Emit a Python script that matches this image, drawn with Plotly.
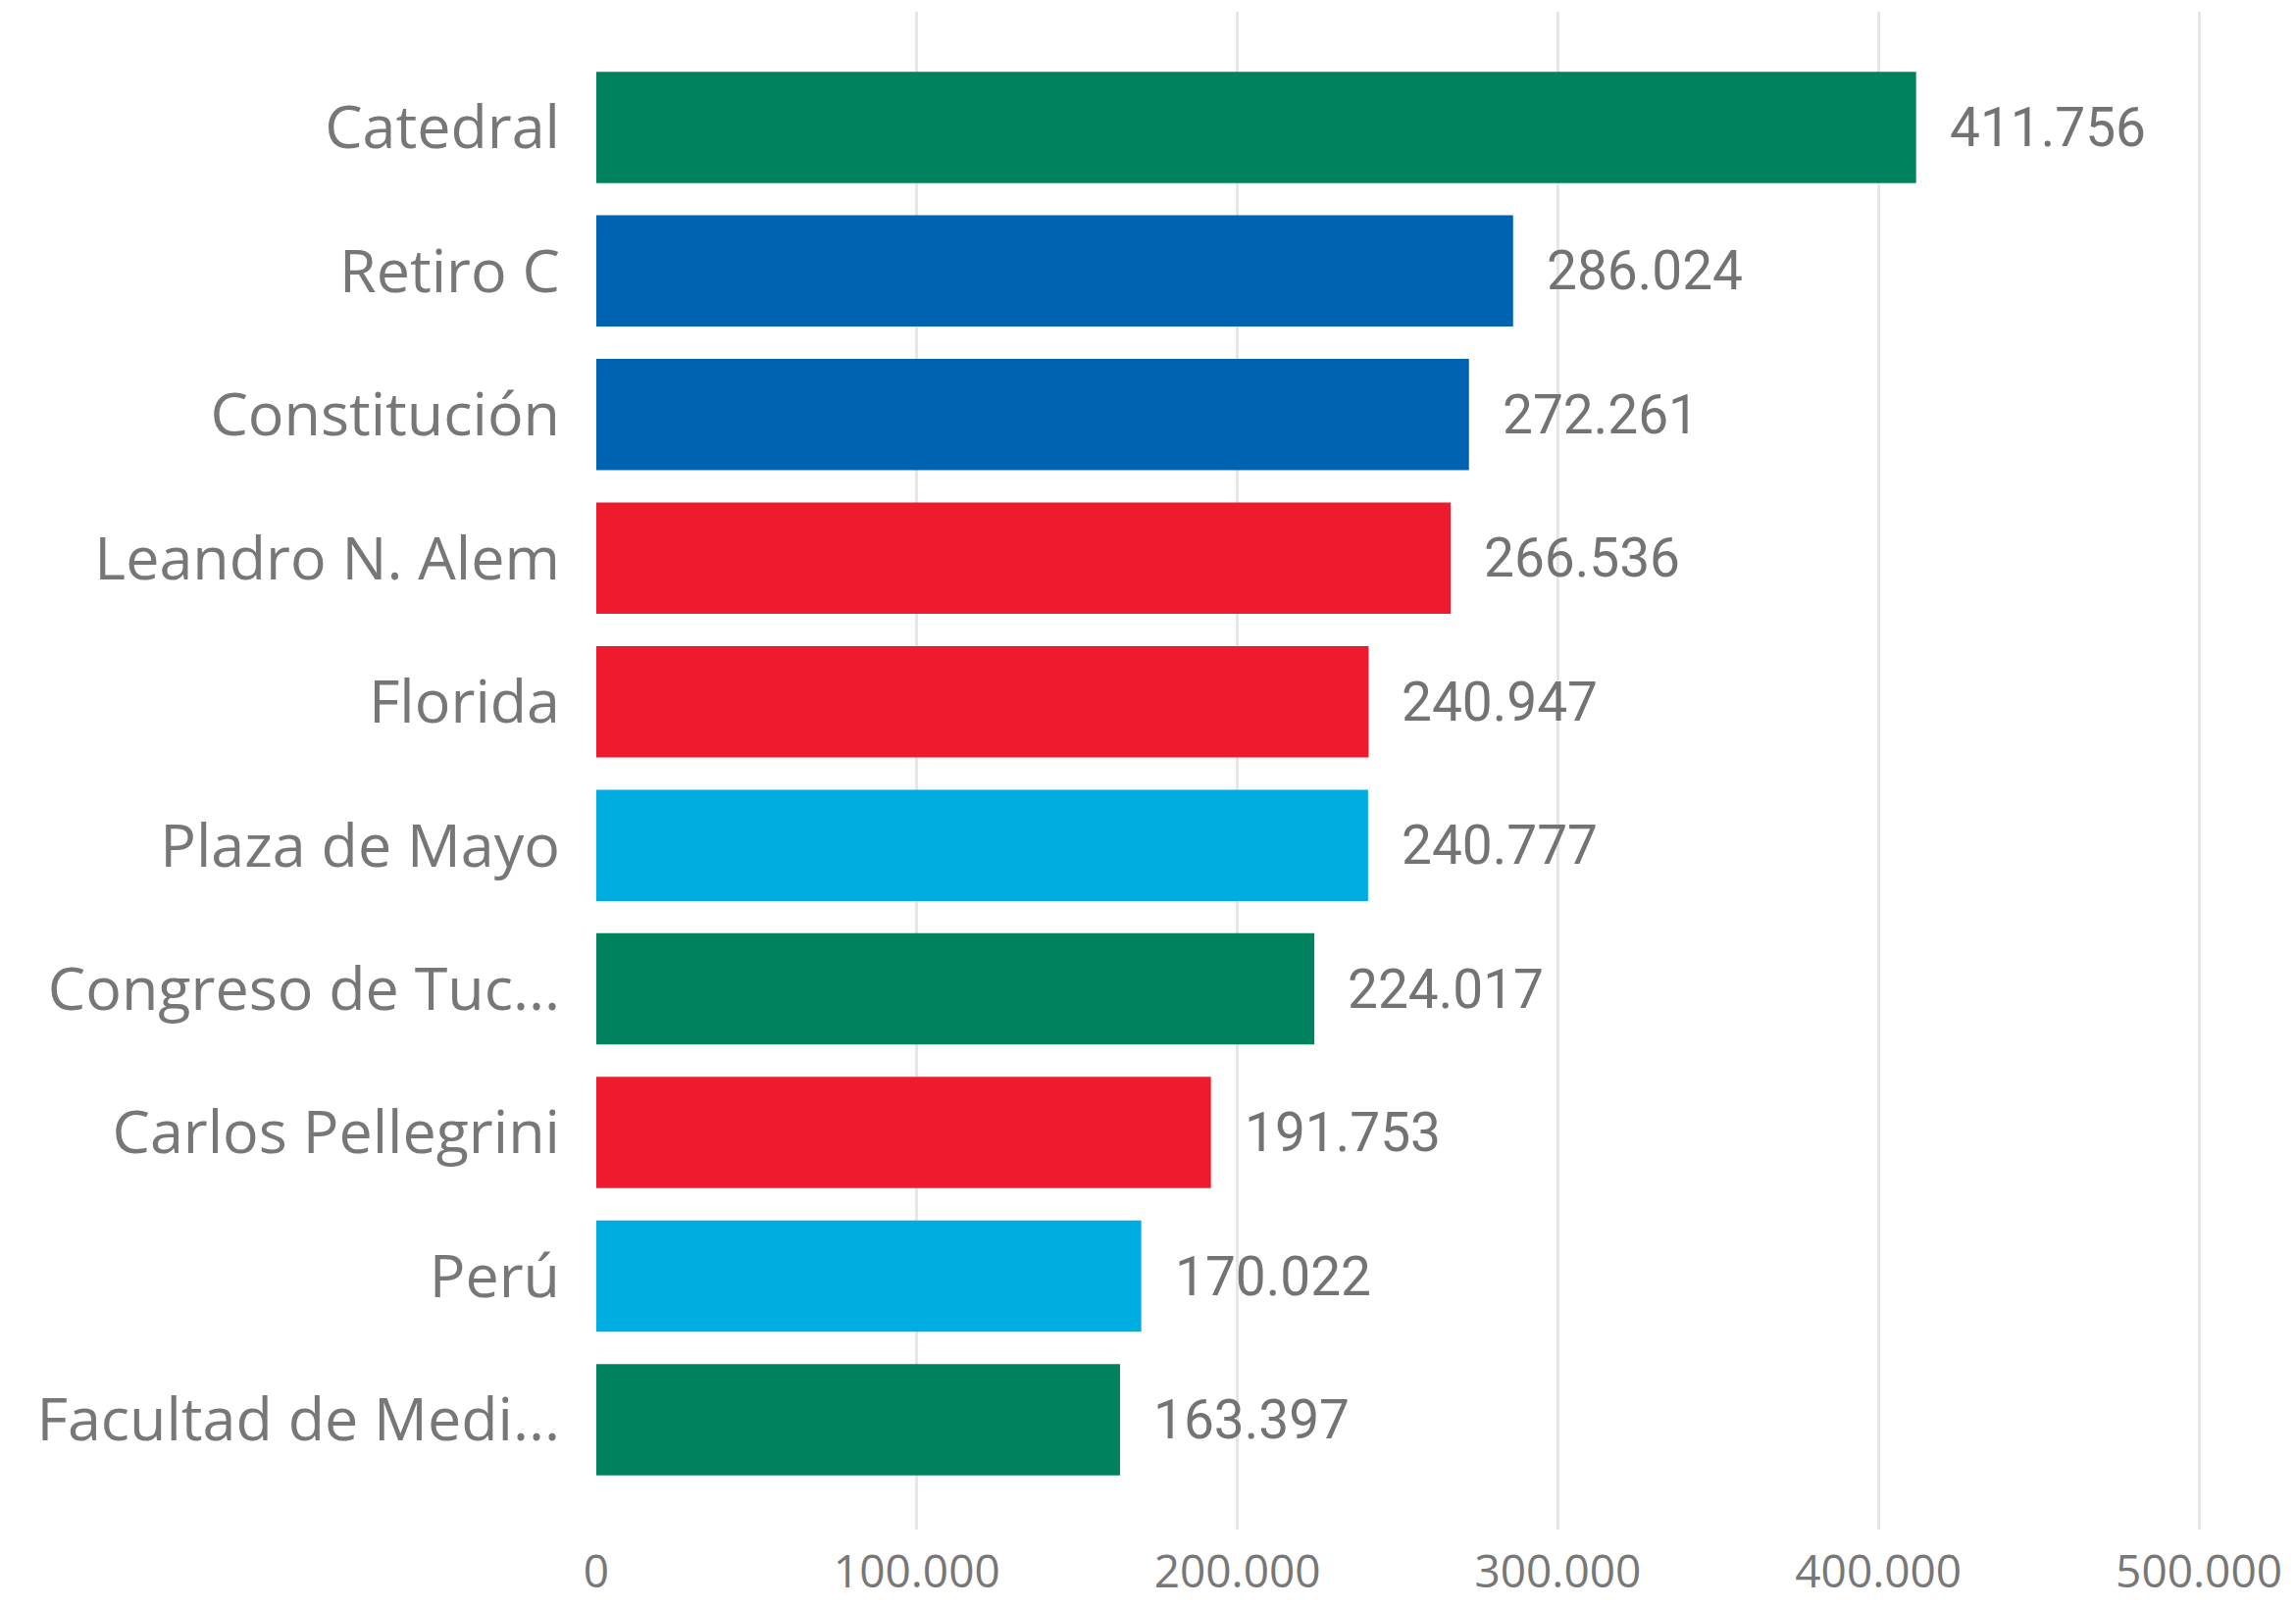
import plotly.graph_objects as go

# Estaciones (top to bottom) and passenger counts
stations = [
    "Catedral", "Retiro C", "Constitución", "Leandro N. Alem", "Florida",
    "Plaza de Mayo", "Congreso de Tuc...", "Carlos Pellegrini", "Perú",
    "Facultad de Medi...",
]
passengers = [411756, 286024, 272261, 266536, 240947, 240777, 224017, 191753, 170022, 163397]
lines = ["D", "C", "C", "B", "B", "A", "D", "B", "A", "D"]
x_ticks = [0, 100000, 200000, 300000, 400000, 500000]

LINE_COLORS = {
    "A": "#00ADE0",  # light blue
    "B": "#EE1B2E",  # red
    "C": "#0063B1",  # blue
    "D": "#00825F",  # green
}
TEXT = "#777777"

fig = go.Figure(
    go.Bar(
        x=passengers,
        y=stations,
        orientation="h",
        marker=dict(color=[LINE_COLORS[l] for l in lines], line_width=0),
        hovertemplate="%{y}: %{x:,.0f}<extra></extra>",
    )
)

# value labels just right of each bar
for name, val in zip(stations, passengers):
    fig.add_annotation(
        x=val, y=name, text=f"{val:,}".replace(",", "."),
        xanchor="left", yanchor="middle", xshift=32, showarrow=False,
        font=dict(family="Roboto, sans-serif", size=55, color="#737373"),
    )

# page body has an 8px margin, so the figure is a bit smaller than the window
fig.update_layout(
    width=2325, height=1623,
    plot_bgcolor="white", paper_bgcolor="white",
    margin=dict(l=600, r=89, t=4, b=71, autoexpand=False),
    bargap=0.225,
    separators=",.",
    showlegend=False,
    font=dict(family="Segoe UI, Open Sans, sans-serif", color=TEXT),
)
fig.update_xaxes(
    range=[0, 500600],
    tickvals=x_ticks,
    tickformat=",.0f",
    showgrid=True, gridcolor="#E6E6E6", gridwidth=3,
    zeroline=False, showline=False, automargin=False,
    tickfont=dict(size=46, color=TEXT, family="Open Sans, sans-serif"),
    ticklabelstandoff=12,
)
fig.update_yaxes(
    range=[9.765, -0.805],
    showgrid=False, zeroline=False, showline=False, automargin=False,
    tickfont=dict(size=61, color=TEXT, family="Open Sans, sans-serif"),
    ticklabelstandoff=36,
)

fig.write_html("out.html")
